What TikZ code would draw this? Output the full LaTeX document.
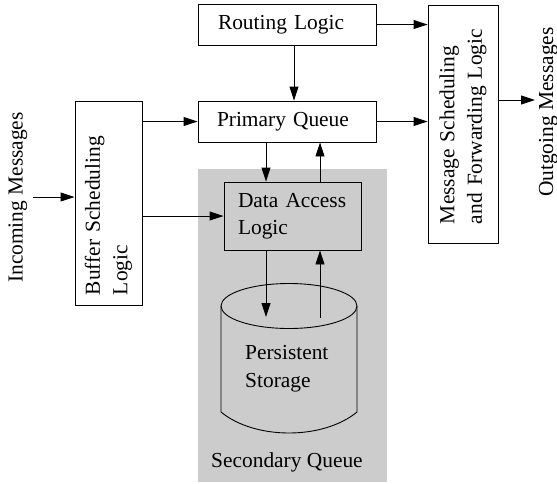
\documentclass[tikz,border=0pt]{standalone}
\usepackage{fontspec}
\setmainfont{Liberation Serif}
\usetikzlibrary{arrows.meta,calc}
\definecolor{qgray}{RGB}{204,204,204}
\begin{document}
\begin{tikzpicture}[x=1pt,y=-1pt,
  font=\fontsize{21.4}{27.5}\selectfont,
  box/.style={draw, line width=0.9pt, align=left, inner ysep=0pt},
  arr/.style={line width=0.9pt, -{Triangle[length=14pt,width=9pt]}},
  lbl/.style={inner sep=0pt, align=left},
  outline/.style={line width=0.9pt}]
\useasboundingbox (0,0) rectangle (557,483);
\fill[qgray] (198,169) rectangle (387,482);
\node[box, minimum height=41pt, text width=138pt, inner xsep=20pt] (route) at (287,24.5) {Routing Logic};
\node[box, minimum height=41pt, text width=140pt, inner xsep=19pt] (prim) at (287,121.5) {Primary Queue};
\node[box, minimum height=68pt, text width=109pt, inner xsep=14pt] (data) at (292.5,216) {Data Access\\Logic};
\node[box, rotate=90, minimum height=67pt, text width=184pt, inner xsep=10pt] (buffer) at (108.5,203) {Buffer Scheduling\\Logic};
\node[box, rotate=90, minimum height=70pt, text width=200pt, inner xsep=19pt] (msg) at (463,124) {Message Scheduling\\and Forwarding Logic};
\draw[outline] (221,306) -- (221,412) .. controls (255,440) and (323,440) .. (357,412) -- (357,306);
\draw[outline] (289,306) ellipse [x radius=68, y radius=22.5];
\node[lbl, anchor=base west] (store) at (245,387) {Persistent\\Storage};
\node[lbl, anchor=base west] (secq) at (211,467) {Secondary Queue};
\node[lbl, rotate=90, anchor=base west] (incoming) at (22.5,283) {Incoming Messages};
\node[lbl, rotate=90, anchor=base west] (outgoing) at (553,197) {Outgoing Messages};
\coordinate (inS) at (33,197);
\coordinate (outE) at (535,100);
\coordinate (stIn) at (266,317);
\coordinate (stOut) at (320,318);
\draw[arr] (inS) -- (inS -| buffer.north);
\draw[arr] (prim.west -| buffer.south) -- (prim.west);
\draw[arr] (data.west -| buffer.south) -- (data.west);
\draw[arr] ([xshift=7pt]route.south) -- ([xshift=7pt]route.south |- prim.north);
\draw[arr] (route.east) -- (route.east -| msg.north);
\draw[arr] (prim.east) -- (prim.east -| msg.north);
\draw[arr] (outE -| msg.south) -- (outE);
\draw[arr] (stIn |- prim.south) -- (stIn |- data.north);
\draw[arr] (stOut |- data.north) -- (stOut |- prim.south);
\draw[arr] (stIn |- data.south) -- (stIn);
\draw[arr] (stOut) -- (stOut |- data.south);
\end{tikzpicture}
\end{document}
